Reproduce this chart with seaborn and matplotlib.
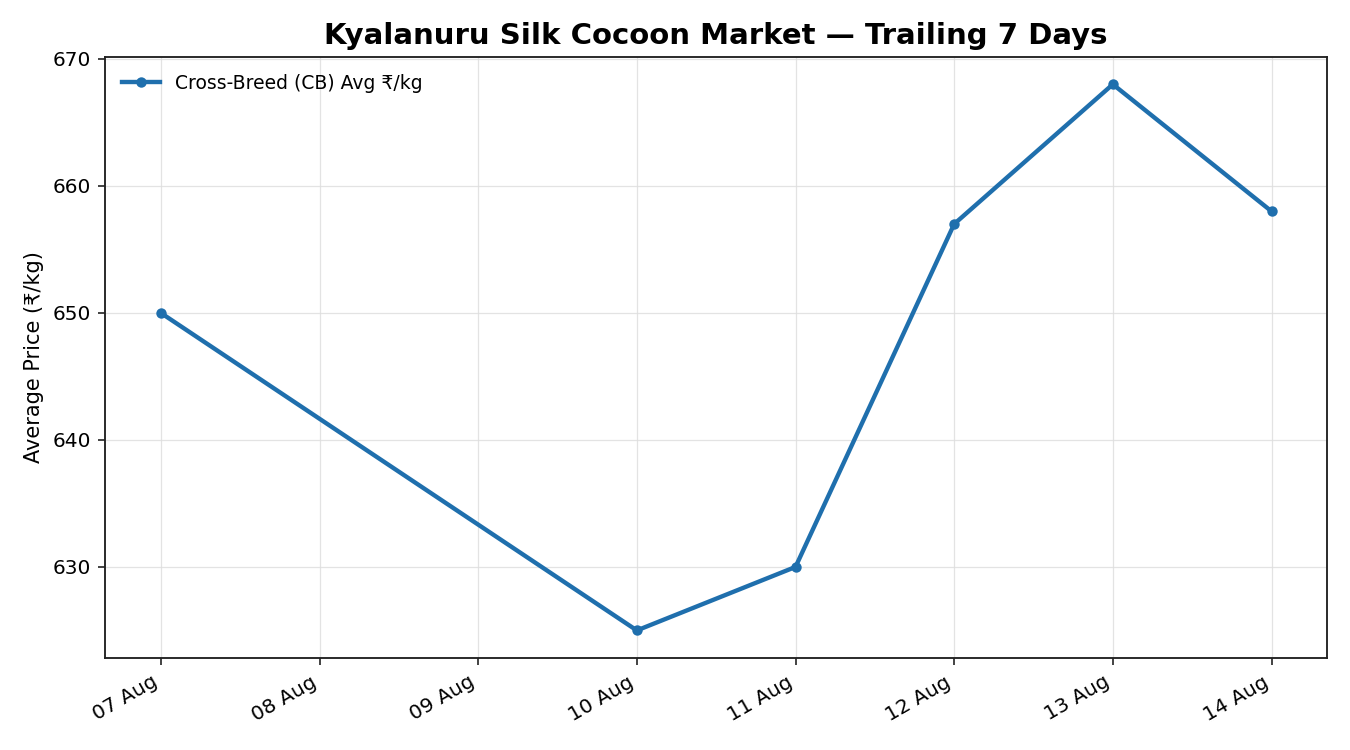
import pandas as pd
import numpy as np
import matplotlib.pyplot as plt
import matplotlib.dates as mdates
import seaborn as sns

# DATA
dates = ["2024-08-07", "2024-08-10", "2024-08-11", "2024-08-12", "2024-08-13", "2024-08-14"]
cb_avg = [650, 625, 630, 657, 668, 658]

df = pd.DataFrame({"date": pd.to_datetime(dates), "price": cb_avg})

plt.rcParams["font.family"] = "sans-serif"
plt.rcParams["font.sans-serif"] = ["DejaVu Sans"]

fig, ax = plt.subplots(figsize=(9, 5), dpi=150)
sns.lineplot(data=df, x="date", y="price", ax=ax, color="#1f6fad", linewidth=2.1,
             marker="o", markersize=5, markeredgewidth=0, label="Cross-Breed (CB) Avg ₹/kg")

ax.set_title("Kyalanuru Silk Cocoon Market — Trailing 7 Days", fontsize=14, fontweight="bold")
ax.set_xlabel("")
ax.set_ylabel("Average Price (₹/kg)", fontsize=10)
ax.grid(True, color="#dddddd", alpha=0.8, linewidth=0.6)
ax.xaxis.set_major_locator(mdates.DayLocator())
ax.xaxis.set_major_formatter(mdates.DateFormatter("%d Aug"))
ax.tick_params(axis="both", labelsize=9.7, color="#222222")
for s in ax.spines.values():
    s.set_color("#222222")
    s.set_linewidth(0.9)
ax.legend(loc="upper left", frameon=False, fontsize=9)
fig.autofmt_xdate()
fig.subplots_adjust(left=0.078, right=0.983, top=0.924, bottom=0.123)
plt.savefig("out.png")
plt.close()
